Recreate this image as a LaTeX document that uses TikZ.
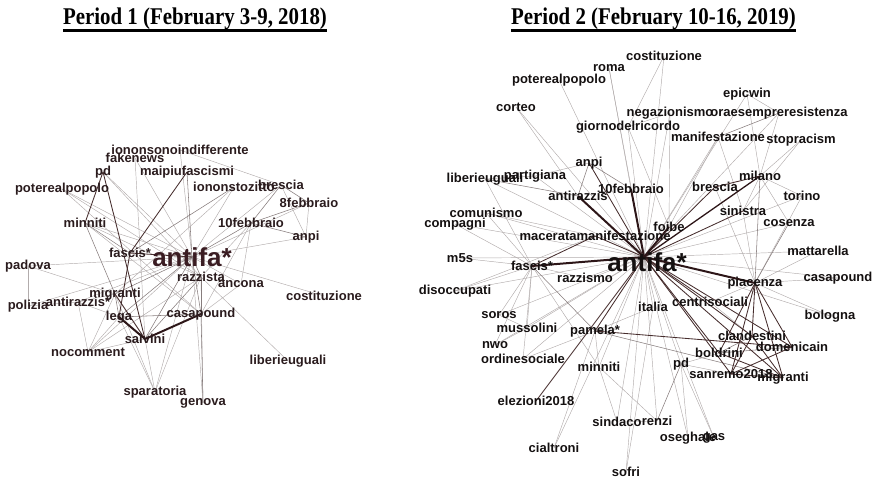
\documentclass[tikz,border=0pt]{standalone}
\usepackage{fontspec}
\setmainfont{Liberation Serif}
\setsansfont{Liberation Sans}
\usetikzlibrary{backgrounds}
\definecolor{labL}{HTML}{2A1B1D}
\definecolor{labR}{HTML}{141010}
\definecolor{hubL}{HTML}{3A1C22}
\definecolor{eLight}{RGB}{178,172,172}
\definecolor{eMed}{RGB}{135,125,125}
\definecolor{eDark}{RGB}{70,45,45}
\definecolor{eThick}{RGB}{45,22,24}
\begin{document}
\begin{tikzpicture}[x=1pt,y=-1pt,
  lbl/.style={font=\sffamily\bfseries\fontsize{13}{13}\selectfont, inner sep=0pt, text=labL},
  rlbl/.style={lbl, text=labR},
  hub/.style={font=\sffamily\bfseries\fontsize{26}{26}\selectfont, inner sep=0pt},
  ttl/.style={font=\rmfamily\bfseries\fontsize{24}{24}\selectfont, inner sep=0pt, anchor=base},
  elt/.style={draw=eLight, line width=0.45pt},
  emd/.style={draw=eMed, line width=0.55pt},
  edk/.style={draw=eDark, line width=0.85pt},
  etk/.style={draw=eThick, line width=2pt}]
\useasboundingbox (0,0) rectangle (874,481);

% titles
\node[ttl] (T1) at (195,25) {\scalebox{0.87}[1]{Period 1 (February 3-9, 2018)}};
\node[ttl] (T2) at (653.5,25) {\scalebox{0.87}[1]{Period 2 (February 10-16, 2019)}};
\draw[line width=2.5pt] ([yshift=-5.5pt]T1.base west) -- ([yshift=-5.5pt]T1.base east);
\draw[line width=2.5pt] ([yshift=-5.5pt]T2.base west) -- ([yshift=-5.5pt]T2.base east);

% ---------- Period 1 ----------
\node[hub, text=hubL] (Lantifa) at (192,257) {antifa*};
\node[lbl] (Lionsono) at (180,150) {iononsonoindifferente};
\node[lbl] (Lfake) at (135,158) {fakenews};
\node[lbl] (Lpd) at (103,172) {pd};
\node[lbl] (Lmaipiu) at (187,172) {maipiufascismi};
\node[lbl] (Lpotere) at (62,189) {poterealpopolo};
\node[lbl] (Lstozitto) at (234,187) {iononstozitto};
\node[lbl] (Lbrescia) at (281,185) {brescia};
\node[lbl] (L8feb) at (309,203) {8febbraio};
\node[lbl] (L10feb) at (251,223) {10febbraio};
\node[lbl] (Lanpi) at (306,237) {anpi};
\node[lbl] (Lminniti) at (85,223) {minniti};
\node[lbl] (Lfascis) at (130,253) {fascis*};
\node[lbl] (Lpadova) at (28,266) {padova};
\node[lbl] (Lrazzista) at (201,277) {razzista};
\node[lbl] (Lancona) at (241,284) {ancona};
\node[lbl] (Lcost) at (324,296) {costituzione};
\node[lbl] (Lmigranti) at (115,294) {migranti};
\node[lbl] (Lpolizia) at (28,306) {polizia};
\node[lbl] (Lantirazz) at (78,302) {antirazzis*};
\node[lbl] (Llega) at (119,317) {lega};
\node[lbl] (Lcasa) at (201,314) {casapound};
\node[lbl] (Lsalvini) at (145,339) {salvini};
\node[lbl] (Lnocomm) at (88,352) {nocomment};
\node[lbl] (Lliberi) at (288,361) {liberieuguali};
\node[lbl] (Lspara) at (155,392) {sparatoria};
\node[lbl] (Lgenova) at (203,403) {genova};

\begin{scope}[on background layer]
\foreach \a/\b in {Lantifa/Lionsono, Lantifa/Lfake, Lantifa/Lpd, Lantifa/Lpotere, Lantifa/Lstozitto,
  Lantifa/Lbrescia, Lantifa/L8feb, Lantifa/Lanpi, Lantifa/Lminniti, Lantifa/Lpadova, Lantifa/Lancona,
  Lantifa/Lcost, Lantifa/Lpolizia, Lantifa/Lantirazz, Lantifa/Lnocomm, Lantifa/Lspara, Lantifa/Lgenova,
  Lionsono/Lbrescia, Lpotere/Lrazzista, Lminniti/Lrazzista, Lpadova/Lpolizia, Lpadova/Lmigranti,
  Lpolizia/Lantirazz, Lantirazz/Lnocomm, Lmigranti/Lnocomm, Llega/Lnocomm, Lsalvini/Lnocomm,
  Llega/Lspara, Lmigranti/Lspara, Lsalvini/Lspara, Lspara/Lrazzista, Lgenova/Lrazzista,
  Lrazzista/Lliberi, Lcasa/Lancona, L10feb/Lancona, L10feb/Lcasa, L10feb/Lrazzista,
  Lbrescia/Lanpi, L8feb/Lanpi, Lminniti/Lcasa, Lpd/Lrazzista, Lfake/Lsalvini, Lstozitto/Lmigranti,
  Lantirazz/Lmigranti, Lantirazz/Llega, Lpotere/Lcasa, Lnocomm/Lrazzista}
  \draw[elt] (\a.center) -- (\b.center);
\foreach \a/\b in {Lantifa/L10feb, Lantifa/Lmigranti, Lantifa/Llega, Lantifa/Lcasa, Lantifa/Lsalvini,
  Lantifa/Lrazzista, Lantifa/Lmaipiu, Lstozitto/Lfascis, Lbrescia/L10feb, Lbrescia/L8feb,
  L10feb/L8feb, L10feb/Lanpi, Lcasa/Lgenova, Lcasa/Lrazzista, Lminniti/Lfascis, Lminniti/Lmigranti,
  Llega/Lmigranti, Llega/Lcasa, Lsalvini/Lrazzista}
  \draw[emd] (\a.center) -- (\b.center);
\foreach \a/\b in {Lpd/Lminniti, Lpd/Lsalvini, Lmigranti/Lsalvini, Lfascis/Lantifa, Lfascis/Llega,
  Lmaipiu/Lfascis}
  \draw[edk] (\a.center) -- (\b.center);
\foreach \a/\b in {Llega/Lsalvini, Lsalvini/Lcasa}
  \draw[etk] (\a.center) -- (\b.center);
\end{scope}

% ---------- Period 2 ----------
\node[hub, text=labR] (Rantifa) at (647,262) {antifa*};
\coordinate (Rhub) at (644,257);
\node[rlbl] (Rcost) at (664,56) {costituzione};
\node[rlbl] (Rroma) at (609,68) {roma};
\node[rlbl] (Rpotere) at (559,80) {poterealpopolo};
\node[rlbl] (Rcorteo) at (516,107) {corteo};
\node[rlbl] (Repic) at (747,94) {epicwin};
\node[rlbl] (Rnegaz) at (670,113) {negazionismo};
\node[rlbl] (Rora) at (779,113) {oraesempreresistenza};
\node[rlbl] (Rgiorno) at (628,127) {giornodelricordo};
\node[rlbl] (Rmanif) at (718,137) {manifestazione};
\node[rlbl] (Rstop) at (801,140) {stopracism};
\node[rlbl] (Ranpi) at (589,163) {anpi};
\node[rlbl] (Rpartig) at (535,176) {partigiana};
\node[rlbl] (Rliberi) at (485,179) {liberieuguali};
\node[rlbl] (Rmilano) at (760,176) {milano};
\node[rlbl] (R10feb) at (631,189) {10febbraio};
\node[rlbl] (Rbrescia) at (715,187) {brescia};
\node[rlbl] (Rantirazz) at (578,196) {antirazzis};
\node[rlbl] (Rtorino) at (802,196) {torino};
\node[rlbl] (Rcomun) at (486,213) {comunismo};
\node[rlbl] (Rcompagni) at (455,224) {compagni};
\node[rlbl] (Rsinistra) at (743,211) {sinistra};
\node[rlbl] (Rcosenza) at (789,223) {cosenza};
\node[rlbl] (Rmacerata) at (595,236) {maceratamanifestazione};
\node[rlbl] (Rfoibe) at (669,227) {foibe};
\node[rlbl] (Rm5s) at (460,258) {m5s};
\node[rlbl] (Rfascis) at (532,266) {fascis*};
\node[rlbl] (Rrazzismo) at (585,278) {razzismo};
\node[rlbl] (Rmatta) at (818,251) {mattarella};
\node[rlbl] (Rcasa) at (838,278) {casapound};
\node[rlbl] (Rpiacenza) at (755,283) {piacenza};
\node[rlbl] (Rdisocc) at (455,291) {disoccupati};
\node[rlbl] (Ritalia) at (653,307) {italia};
\node[rlbl] (Rcentri) at (710,302) {centrisociali};
\node[rlbl] (Rbologna) at (830,316) {bologna};
\node[rlbl] (Rsoros) at (499,315) {soros};
\node[rlbl] (Rmusso) at (527,328) {mussolini};
\node[rlbl] (Rpamela) at (595,331) {pamela*};
\node[rlbl] (Rclande) at (752,336) {clandestini};
\node[rlbl] (Rnwo) at (495,345) {nwo};
\node[rlbl] (Rdomen) at (792,347) {domenicain};
\node[rlbl] (Rboldrini) at (719,353) {boldrini};
\node[rlbl] (Rordine) at (523,359) {ordinesociale};
\node[rlbl] (Rminniti) at (599,367) {minniti};
\node[rlbl] (Rpd) at (681,364) {pd};
\node[rlbl] (Rsanremo) at (731,374) {sanremo2018};
\node[rlbl] (Rmigranti) at (783,378) {migranti};
\node[rlbl] (Relezioni) at (536,401) {elezioni2018};
\node[rlbl] (Rsindaco) at (617,422) {sindaco};
\node[rlbl] (Rrenzi) at (657,421) {renzi};
\node[rlbl] (Rosegh) at (688,438) {oseghale};
\node[rlbl] (Rgas) at (714,438) {gas};
\node[rlbl] (Rcialtroni) at (554,448) {cialtroni};
\node[rlbl] (Rsofri) at (626,472) {sofri};

\begin{scope}[on background layer]
\foreach \b in {Rcost, Rroma, Rpotere, Rcorteo, Repic, Rnegaz, Rora, Rgiorno, Rmanif, Rpartig,
  Rliberi, Rtorino, Rcomun, Rcompagni, Rcosenza, Rm5s, Rrazzismo, Rmatta, Rcasa, Rdisocc, Ritalia,
  Rbologna, Rsoros, Rmusso, Rnwo, Rordine, Rminniti, Rpd, Rsindaco, Rrenzi, Rosegh, Rcialtroni, Rsofri, Rgas}
  \draw[elt] (Rhub) -- (\b.center);
\foreach \a/\b in {Repic/Rmilano, Repic/Rora, Rora/Rmilano, Rstop/Rmilano, Rmanif/Rsinistra,
  Rnegaz/Rgiorno, Rnegaz/Rfoibe, Rgiorno/Rfoibe, Rroma/R10feb, Rmilano/Rtorino, Rmilano/Rsinistra,
  Rtorino/Rpiacenza, Rmatta/Rpiacenza, Rcasa/Rpiacenza, Rbologna/Rpiacenza, Rsinistra/Rpiacenza,
  Rcentri/Rpiacenza, Rpartig/Ranpi, Rliberi/Rpartig, Rliberi/Rfascis, Rcomun/Rfascis,
  Rcompagni/Rfascis, Rm5s/Rfascis, Rdisocc/Rfascis, Rsoros/Rfascis, Rmusso/Rfascis, Rnwo/Rfascis,
  Rordine/Rfascis, Rfascis/Rrazzismo, Rfascis/Rminniti, Rpamela/Rminniti, Rpamela/Rcialtroni,
  Rminniti/Rsindaco, Rminniti/Rrenzi, Rsindaco/Rrenzi, Rpd/Rboldrini, Rpd/Rosegh, Rpd/Rsanremo,
  Rsofri/Ritalia, Rmusso/Rnwo, Rsoros/Rmusso, Rdisocc/Rmacerata, Rcomun/Rmacerata, Rcorteo/Rantirazz,
  Rstop/Rsinistra, Rmanif/Rfoibe, Rcost/Rgiorno, Rbrescia/Rpiacenza, Rmilano/Rcosenza,
  Rordine/Rpamela, Rgas/Rpd, Rcentri/Rclande, Ritalia/Rpamela}
  \draw[elt] (\a.center) -- (\b.center);
\foreach \a/\b in {Rrenzi/Rpd, Rfascis/Rpamela, Rpamela/Rmigranti, Rliberi/Rantirazz,
  Ranpi/R10feb, Ranpi/Rantirazz, Rmilano/Rpiacenza, Rcosenza/Rpiacenza, Rboldrini/Rdomen,
  Rclande/Rboldrini, Rora/Rmanif}
  \draw[emd] (\a.center) -- (\b.center);
\foreach \b in {Rmacerata, Rbrescia, Rsinistra, Rclande, Rboldrini, Rdomen, Rmigranti, Rsanremo,
  Relezioni, Rcentri, Rpamela, Ranpi}
  \draw[edk] (Rhub) -- (\b.center);
\foreach \a/\b in {Rpamela/Rdomen, Rpiacenza/Rclande, Rpiacenza/Rsanremo, Rpiacenza/Rmigranti,
  Rpiacenza/Rboldrini, Rpiacenza/Rdomen, Rmilano/Rbrescia, Rclande/Rmigranti, Rboldrini/Rmigranti,
  Rsanremo/Rdomen, Rclande/Rsanremo, Rfascis/Rmacerata, Rsanremo/Rmigranti}
  \draw[edk] (\a.center) -- (\b.center);
\foreach \b in {Rantirazz, R10feb, Rfascis, Rpiacenza, Rfoibe}
  \draw[etk] (Rhub) -- (\b.center);
\draw[draw=eThick, line width=1.3pt] (Rhub) -- (Rmilano.center);
\end{scope}
\end{tikzpicture}
\end{document}
